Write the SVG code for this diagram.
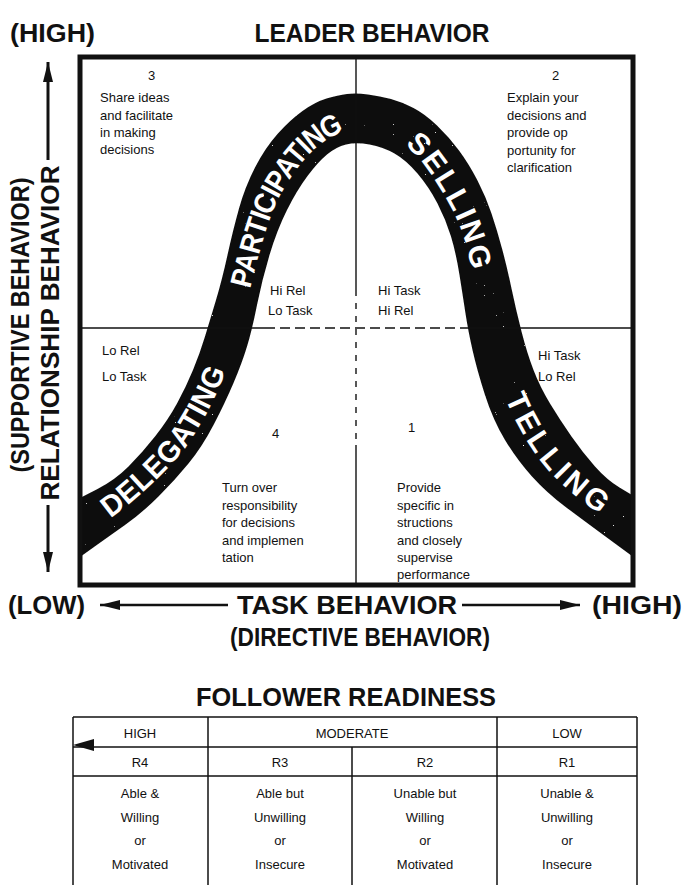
<svg xmlns="http://www.w3.org/2000/svg" width="685" height="885" viewBox="0 0 685 885">
<style>
.hd{font-family:"Liberation Sans",Arial,sans-serif;font-weight:bold;font-size:26px;fill:#111}
.q{font-family:"Liberation Sans",Arial,sans-serif;font-size:13px;fill:#111}
.bw{font-family:"Liberation Sans",Arial,sans-serif;font-weight:bold;font-size:30px;fill:#fff}
.t{font-family:"Liberation Sans",Arial,sans-serif;font-size:13px;fill:#111;text-anchor:middle}
.ln{stroke:#111;fill:none}
</style>
<defs>
<marker id="ah" viewBox="0 0 20 10" refX="20" refY="5" markerWidth="20" markerHeight="10" markerUnits="userSpaceOnUse" orient="auto"><path d="M0,0 L20,5 L0,10 Z" fill="#111"/></marker>
<filter id="spk" x="0" y="0" width="100%" height="100%">
<feTurbulence type="fractalNoise" baseFrequency="0.9" numOctaves="1" seed="7" result="n"/>
<feColorMatrix in="n" type="matrix" values="0 0 0 0 1  0 0 0 0 1  0 0 0 0 1  22 0 0 0 -17" result="dots"/>
<feComposite in="dots" in2="SourceGraphic" operator="in" result="d2"/>
<feMerge><feMergeNode in="SourceGraphic"/><feMergeNode in="d2"/></feMerge>
</filter>
<path id="pD" d="M80,527 L100,513.5 Q120,500 145,476.5 Q170,453 181,436.5 Q192,420 200.5,403.5 Q209,387 215.5,370 Q222,353 227,336.5 L232,320"/>
<path id="pP" d="M222,353 L227,336.5 Q232,320 237,300 Q242,280 248.5,255 Q255,230 262.5,210 Q270,190 285,168.5 Q300,147 315,136 Q330,125 343,121.5 Q356,118 370.5,120 L385,122"/>
<path id="pS" d="M356,118 L370.5,120 Q385,122 400,130 Q415,138 427.5,153 Q440,168 455,194 Q470,220 476,243.5 Q482,267 486,288.5 Q490,310 495,331.5 L500,353"/>
<path id="pT" d="M490,310 L495,331.5 Q500,353 505.5,370 Q511,387 518.5,403.5 Q526,420 536,436.5 Q546,453 558.5,466.5 Q571,480 590.5,495 Q610,510 621,516.5 L632,523"/>
</defs>

<g id="titles">
<text class="hd" x="10" y="42" textLength="85" lengthAdjust="spacingAndGlyphs">(HIGH)</text>
<text class="hd" x="372" y="42" text-anchor="middle" textLength="235" lengthAdjust="spacingAndGlyphs">LEADER BEHAVIOR</text>
</g>

<g id="y-axis">
<line class="ln" x1="48" y1="160" x2="48" y2="62" stroke-width="3" marker-end="url(#ah)"/>
<line class="ln" x1="48" y1="505" x2="48" y2="572" stroke-width="3" marker-end="url(#ah)"/>
<text class="hd" transform="translate(29,325) rotate(-90)" text-anchor="middle" textLength="295" lengthAdjust="spacingAndGlyphs">(SUPPORTIVE BEHAVIOR)</text>
<text class="hd" transform="translate(59,333) rotate(-90)" text-anchor="middle" textLength="335" lengthAdjust="spacingAndGlyphs">RELATIONSHIP BEHAVIOR</text>
</g>

<g id="curve">
<path filter="url(#spk)" d="M80,498 L97.5,489 Q115,480 128.5,466.5 Q142,453 155,436.5 Q168,420 177,403.5 Q186,387 193,370 Q200,353 205,336.5 Q210,320 216,300 Q222,280 227.5,255 Q233,230 239,208.5 Q245,187 255,167.5 Q265,148 277.5,134 Q290,120 302.5,111 Q315,102 326.5,98.5 Q338,95 347,94 Q356,93 368,94.5 Q380,96 391,99 Q402,102 413.5,108 Q425,114 437,125.5 Q449,137 459,150.5 Q469,164 477.5,180.5 Q486,197 491.5,213.5 Q497,230 502,248.5 Q507,267 511.5,288.5 Q516,310 521.5,331.5 Q527,353 533.5,370 Q540,387 550,403.5 Q560,420 571.5,436.5 Q583,453 595,466.5 Q607,480 619.5,487.5 L632,495 L632,556 L607.5,538 Q583,520 565,506.5 Q547,493 532,476.5 Q517,460 505,440 Q493,420 485,395 Q477,370 472.5,350 Q468,330 465.5,313.5 Q463,297 459.5,275 Q456,253 451,236.5 Q446,220 437.5,203.5 Q429,187 417.5,173.5 Q406,160 394.5,153.5 Q383,147 369.5,144.5 Q356,142 346,144.5 Q336,147 327,154.5 Q318,162 307.5,176 Q297,190 287,210 Q277,230 269.5,255 Q262,280 257,305 Q252,330 247,346.5 Q242,363 233.5,383 Q225,403 213.5,425 Q202,447 188.5,463.5 Q175,480 158.5,496.5 Q142,513 125,525 Q108,537 94,547 L80,557 Z" fill="#111"/>
<text class="bw" dy="10"><textPath href="#pD" startOffset="122" text-anchor="middle" textLength="185" lengthAdjust="spacingAndGlyphs">DELEGATING</textPath></text>
<text class="bw" dy="10"><textPath href="#pP" startOffset="169" text-anchor="middle" textLength="200" lengthAdjust="spacingAndGlyphs">PARTICIPATING</textPath></text>
<text class="bw" dy="10"><textPath href="#pS" startOffset="135" text-anchor="middle" textLength="150" lengthAdjust="spacing">SELLING</textPath></text>
<text class="bw" dy="10"><textPath href="#pT" startOffset="161" text-anchor="middle" textLength="147" lengthAdjust="spacing">TELLING</textPath></text>
</g>

<g id="grid">
<line class="ln" x1="356" y1="57" x2="356" y2="290" stroke-width="1.4"/>
<line class="ln" x1="356" y1="290" x2="356" y2="445" stroke-width="1.4" stroke-dasharray="6 7"/>
<line class="ln" x1="356" y1="445" x2="356" y2="585" stroke-width="1.4"/>
<line class="ln" x1="80" y1="328" x2="265" y2="328" stroke-width="1.6"/>
<line class="ln" x1="265" y1="328" x2="462" y2="328" stroke-width="1.4" stroke-dasharray="10 5"/>
<line class="ln" x1="462" y1="328" x2="633" y2="328" stroke-width="1.6"/>
<rect class="ln" x="80" y="57" width="553" height="528" stroke-width="5"/>
</g>

<g id="quadrant-3">
<text class="q" x="148" y="80">3</text>
<text class="q" x="100" y="102">Share ideas</text>
<text class="q" x="100" y="120">and facilitate</text>
<text class="q" x="100" y="137">in making</text>
<text class="q" x="100" y="154">decisions</text>
<text class="q" x="270" y="295">Hi Rel</text>
<text class="q" x="268" y="315">Lo Task</text>
</g>
<g id="quadrant-2">
<text class="q" x="552" y="80">2</text>
<text class="q" x="507" y="102">Explain your</text>
<text class="q" x="507" y="120">decisions and</text>
<text class="q" x="507" y="137">provide op</text>
<text class="q" x="507" y="155">portunity for</text>
<text class="q" x="507" y="172">clarification</text>
<text class="q" x="378" y="295">Hi Task</text>
<text class="q" x="378" y="315">Hi Rel</text>
</g>
<g id="quadrant-4">
<text class="q" x="102" y="355">Lo Rel</text>
<text class="q" x="102" y="381">Lo Task</text>
<text class="q" x="272" y="438">4</text>
<text class="q" x="222" y="492">Turn over</text>
<text class="q" x="222" y="510">responsibility</text>
<text class="q" x="222" y="527">for decisions</text>
<text class="q" x="222" y="545">and implemen</text>
<text class="q" x="222" y="562">tation</text>
</g>
<g id="quadrant-1">
<text class="q" x="538" y="360">Hi Task</text>
<text class="q" x="538" y="381">Lo Rel</text>
<text class="q" x="408" y="432">1</text>
<text class="q" x="397" y="492">Provide</text>
<text class="q" x="397" y="510">specific in</text>
<text class="q" x="397" y="527">structions</text>
<text class="q" x="397" y="545">and closely</text>
<text class="q" x="397" y="562">supervise</text>
<text class="q" x="397" y="579">performance</text>
</g>

<g id="x-axis">
<text class="hd" x="8" y="614" textLength="77" lengthAdjust="spacingAndGlyphs">(LOW)</text>
<line class="ln" x1="228" y1="605" x2="100" y2="605" stroke-width="2.5" marker-end="url(#ah)"/>
<text class="hd" x="347" y="614" text-anchor="middle" textLength="220" lengthAdjust="spacingAndGlyphs">TASK BEHAVIOR</text>
<line class="ln" x1="462" y1="605" x2="580" y2="605" stroke-width="2.5" marker-end="url(#ah)"/>
<text class="hd" x="592" y="614" textLength="90" lengthAdjust="spacingAndGlyphs">(HIGH)</text>
<text class="hd" x="360" y="646" text-anchor="middle" textLength="260" lengthAdjust="spacingAndGlyphs">(DIRECTIVE BEHAVIOR)</text>
</g>

<g id="follower-readiness">
<text class="hd" x="346" y="706" text-anchor="middle" textLength="300" lengthAdjust="spacingAndGlyphs">FOLLOWER READINESS</text>
<g class="ln" stroke-width="1.5">
<line x1="73" y1="717" x2="637" y2="717"/>
<line x1="73" y1="747" x2="637" y2="747"/>
<line x1="73" y1="776" x2="637" y2="776"/>
<line x1="73" y1="717" x2="73" y2="885"/>
<line x1="637" y1="717" x2="637" y2="885"/>
<line x1="208" y1="717" x2="208" y2="885"/>
<line x1="497" y1="717" x2="497" y2="885"/>
<line x1="352" y1="747" x2="352" y2="885"/>
</g>
<path d="M73,745 L94,739 L94,751 Z" fill="#111"/>
<text class="t" x="140" y="738">HIGH</text>
<text class="t" x="352" y="738">MODERATE</text>
<text class="t" x="567" y="738">LOW</text>
<text class="t" x="140" y="767">R4</text>
<text class="t" x="280" y="767">R3</text>
<text class="t" x="425" y="767">R2</text>
<text class="t" x="567" y="767">R1</text>
<text class="t" x="140" y="798">Able &amp;</text>
<text class="t" x="140" y="822">Willing</text>
<text class="t" x="140" y="845">or</text>
<text class="t" x="140" y="869">Motivated</text>
<text class="t" x="280" y="798">Able but</text>
<text class="t" x="280" y="822">Unwilling</text>
<text class="t" x="280" y="845">or</text>
<text class="t" x="280" y="869">Insecure</text>
<text class="t" x="425" y="798">Unable but</text>
<text class="t" x="425" y="822">Willing</text>
<text class="t" x="425" y="845">or</text>
<text class="t" x="425" y="869">Motivated</text>
<text class="t" x="567" y="798">Unable &amp;</text>
<text class="t" x="567" y="822">Unwilling</text>
<text class="t" x="567" y="845">or</text>
<text class="t" x="567" y="869">Insecure</text>
</g>
</svg>
